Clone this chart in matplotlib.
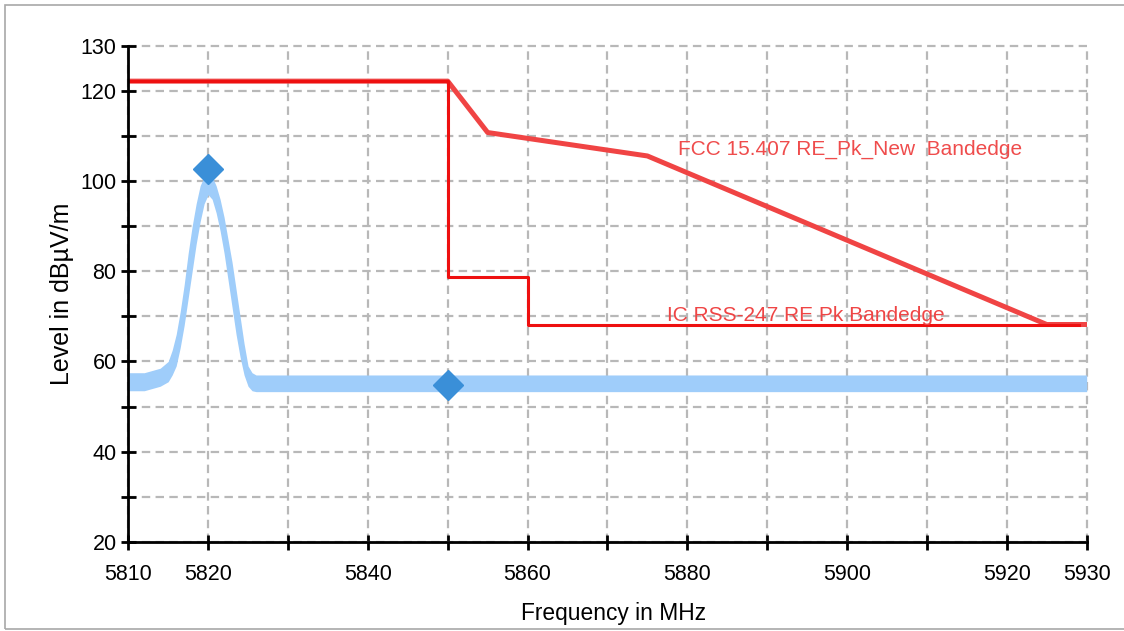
import matplotlib
matplotlib.use("Agg")
import matplotlib.pyplot as plt
from matplotlib.patches import Rectangle
from matplotlib.ticker import FixedLocator, FixedFormatter
from matplotlib import font_manager

plt.rcParams['font.family'] = ['Liberation Sans', 'DejaVu Sans']

# measured trace (noise band: lower / upper envelope), dBuV/m
trace_freq = [5810, 5812, 5814, 5815, 5815.5, 5816, 5816.5, 5817, 5817.5,
              5818, 5818.5, 5819, 5819.5, 5820, 5820.5, 5821, 5821.5, 5822,
              5822.5, 5823, 5823.5, 5824, 5824.5, 5825, 5825.5, 5826, 5930]
trace_low = [53.5, 53.5, 54.5, 55.5, 57, 59, 63, 68, 74,
             80, 86, 91, 95, 97, 96, 93, 89, 84,
             78, 72, 66, 61, 57, 54.5, 53.5, 53.3, 53.3]
trace_high = [57.5, 57.5, 58.5, 60, 62.5, 66, 71, 77, 84,
              90, 95, 99, 101, 101.5, 101, 99, 96, 92,
              87, 82, 76, 70, 64, 59, 57.5, 57.0, 57.0]

# markers
marker_freq = [5820, 5850]
marker_level = [102.6, 54.8]

# limit lines
fcc_freq = [5810, 5850, 5855, 5875, 5925, 5930]
fcc_level = [122.2, 122.2, 110.8, 105.6, 68.2, 68.2]
ic_freq = [5810, 5850, 5850, 5860, 5860, 5929]
ic_level = [122.2, 122.2, 78.8, 78.8, 68.2, 68.2]

x_ticks = list(range(5810, 5931, 10))
x_labels = ["5810", "5820", "", "5840", "", "5860", "", "5880", "",
            "5900", "", "5920", "5930"]
y_ticks = list(range(20, 131, 10))
y_labels = ["20", "", "40", "", "60", "", "80", "", "100", "", "120", "130"]


def narrow_family():
    """
    Returns a narrow sans family if one is installed
    """
    names = {f.name for f in font_manager.fontManager.ttflist}
    print("narrow available:", "Liberation Sans Narrow" in names)
    if "Liberation Sans Narrow" in names:
        return ["Liberation Sans Narrow", "DejaVu Sans"], 1.0
    return ["Liberation Sans", "DejaVu Sans"], 0.82


def main():
    narrow, scale = narrow_family()

    fig = plt.figure(figsize=(11.24, 6.31), dpi=100)
    ax = fig.add_axes([0.1141, 0.1415, 0.8527, 0.7856])

    # outer frame of the report picture
    fig.patches.append(Rectangle((0.0044, 0.003), 1.0, 0.989,
                                 transform=fig.transFigure, fill=False,
                                 edgecolor="#a8a8a8", linewidth=1.2))

    ax.fill_between(trace_freq, trace_low, trace_high, color="#9fcdfa",
                    linewidth=0, zorder=2)
    ax.plot(fcc_freq, fcc_level, color="#f04444", linewidth=3.6, zorder=3)
    ax.plot(ic_freq, ic_level, color="#ee1010", linewidth=2.2, zorder=4)
    ax.plot(marker_freq, marker_level, linestyle="none", marker="D",
            markersize=15, color="#3a8fd8", zorder=5)

    ax.text(5878.8, 105.8, "FCC 15.407 RE_Pk_New  Bandedge", color="#ef4c4c",
            fontsize=18.3 * scale, family=narrow, va="baseline", ha="left",
            zorder=6)
    ax.text(5877.4, 68.9, "IC RSS-247 RE Pk Bandedge", color="#ef4545",
            fontsize=18.3 * scale, family=narrow, va="baseline", ha="left",
            zorder=6)

    ax.set_xlim(5810, 5930)
    ax.set_ylim(20, 130)
    ax.xaxis.set_major_locator(FixedLocator(x_ticks))
    ax.xaxis.set_major_formatter(FixedFormatter(x_labels))
    ax.yaxis.set_major_locator(FixedLocator(y_ticks))
    ax.yaxis.set_major_formatter(FixedFormatter(y_labels))

    ax.grid(True, color="#b8b8b8", linewidth=1.6, linestyle=(0, (3.8, 2.4)),
            zorder=1)
    for line in ax.get_xgridlines() + ax.get_ygridlines():
        line.set_clip_on(False)

    for side in ("top", "right"):
        ax.spines[side].set_visible(False)
    for side in ("left", "bottom"):
        ax.spines[side].set_linewidth(2)
        ax.spines[side].set_zorder(7)

    ax.tick_params(axis="both", direction="inout", length=10.8, width=2,
                   labelsize=15.5, colors="black")
    ax.tick_params(axis="x", pad=11)
    ax.tick_params(axis="y", pad=3)

    ax.set_xlabel("Frequency in MHz", fontsize=20 * scale, family=narrow)
    ax.xaxis.set_label_coords(0.5068, -0.122)
    ax.set_ylabel("Level in dBµV/m", fontsize=18)
    ax.yaxis.set_label_coords(-0.0566, 0.5)

    fig.savefig("out.png", dpi=100)


if __name__ == "__main__":
    main()
